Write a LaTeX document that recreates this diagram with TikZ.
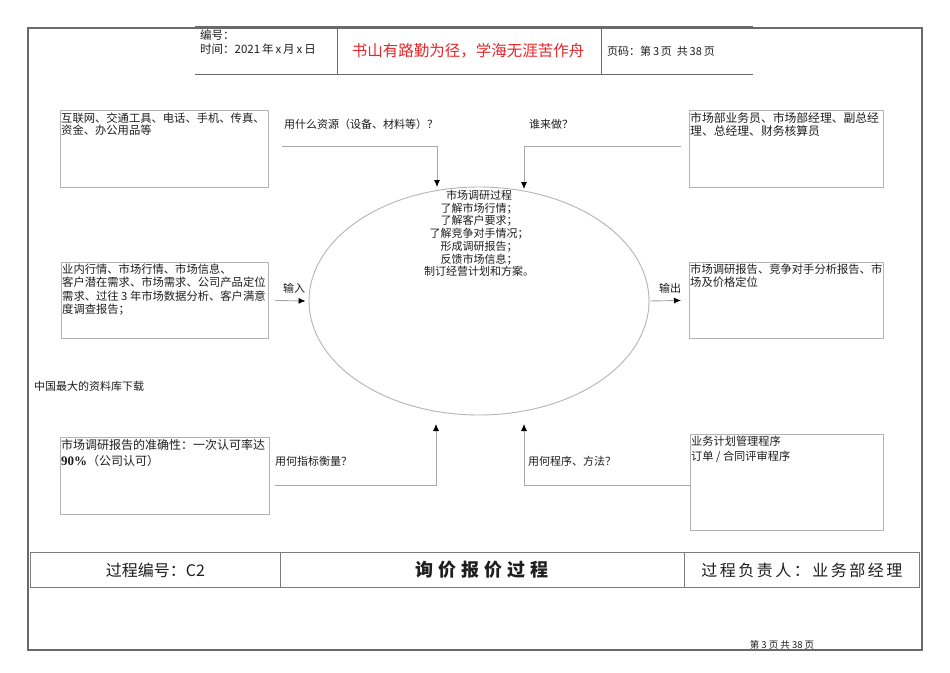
\documentclass[tikz,border=0pt]{standalone}
\usepackage{fontspec}
\setmainfont{Noto Sans CJK SC}
\newfontfamily\serifnum{Liberation Serif}
\usetikzlibrary{arrows.meta,shapes.geometric}
\definecolor{framegray}{HTML}{6A6A6A}
\definecolor{boxgray}{HTML}{B4B4B4}
\definecolor{linegray}{HTML}{A8A8A8}
\definecolor{tablegray}{HTML}{7C7C7C}
\definecolor{txt}{HTML}{1E1E1E}
\definecolor{redtxt}{HTML}{E8262B}
\tikzset{
  pbox/.style={draw=boxgray, line width=0.9pt, rectangle, anchor=north west, inner sep=0pt},
  boxtext/.style={anchor=north west, inner sep=0pt, align=left, text=txt, font=\fontsize{11.3}{13.5}\selectfont},
  lbl/.style={anchor=west, inner sep=0pt, text=txt, font=\fontsize{11}{13}\selectfont},
  conn/.style={draw=linegray, line width=0.9pt, -{Latex[length=7pt,width=6pt,color=black]}},
  tcell/.style={draw=tablegray, line width=0.9pt, rectangle, anchor=north west, inner sep=0pt, minimum height=35pt, text=txt},
  hdrline/.style={draw=framegray, line width=0.8pt},
}
\begin{document}
\begin{tikzpicture}[x=1pt,y=-1pt]
\useasboundingbox (0,0) rectangle (950,672);
\fill[white] (0,0) rectangle (950,672);

% outer frame
\draw[draw=framegray, line width=2pt] (28,28) rectangle (922,650);

% header
\draw[hdrline, line width=1.8pt] (195,27) -- (753,27);
\draw[hdrline] (195,74) -- (753,74);
\draw[hdrline] (337,27) -- (337,74);
\draw[hdrline] (601,27) -- (601,74);
\node[anchor=west, inner sep=0pt, text=txt, font=\fontsize{11.5}{13}\selectfont] (hno) at (200,35) {编号：};
\node[anchor=west, inner sep=0pt, text=txt, font=\fontsize{11.5}{13}\selectfont] (htime) at (200,49) {时间：2021\,年\,x\,月\,x\,日};
\node[inner sep=0pt, text=redtxt, font=\fontsize{15.5}{18}\selectfont] (motto) at (468,51) {书山有路勤为径，学海无涯苦作舟};
\node[anchor=west, inner sep=0pt, text=txt, font=\fontsize{11}{13}\selectfont] (hpage) at (607,51) {页码：第\,3\,页\ \ 共\,38\,页};

% boxes
\node[pbox, minimum width=208pt, minimum height=77pt] (tl) at (60,110) {};
\node[boxtext, font=\fontsize{11.3}{12.5}\selectfont] (tlt) at (61,112.5) {互联网、交通工具、电话、手机、传真、\\资金、办公用品等};

\node[pbox, minimum width=194pt, minimum height=77pt] (tr) at (689,110) {};
\node[boxtext, font=\fontsize{11.8}{13}\selectfont] (trt) at (690,112.5) {市场部业务员、市场部经理、副总经\\理、总经理、财务核算员};

\node[pbox, minimum width=207pt, minimum height=76pt] (lm) at (61,262) {};
\node[boxtext] (lmt) at (62,263.5) {业内行情、市场行情、市场信息、\\客户潜在需求、市场需求、公司产品定位\\需求、过往 3 年市场数据分析、客户满意\\度调查报告；};

\node[pbox, minimum width=194pt, minimum height=76pt] (rm) at (689,262) {};
\node[boxtext, font=\fontsize{11.3}{13.5}\selectfont] (rmt) at (690,263.5) {市场调研报告、竞争对手分析报告、市\\场及价格定位};

\node[pbox, minimum width=209pt, minimum height=77pt] (bl) at (60,437) {};
\node[boxtext, font=\fontsize{12}{16}\selectfont] (blt) at (61,439) {市场调研报告的准确性：一次认可率达\\{\serifnum\bfseries\fontsize{13}{16}\selectfont 90\%}（公司认可）};

\node[pbox, minimum width=193pt, minimum height=96pt] (br) at (690,434) {};
\node[boxtext, font=\fontsize{11.2}{14.5}\selectfont] (brt) at (691,436) {业务计划管理程序\\订单 / 合同评审程序};

% ellipse
\node[draw=boxgray, line width=0.9pt, ellipse, minimum width=340pt, minimum height=228pt, inner sep=0pt] (ell) at (479,301) {};
\node[anchor=north, inner sep=0pt, align=center, text=txt, font=\fontsize{11}{12.7}\selectfont] (elt) at (479,190) {市场调研过程\\了解市场行情；\\了解客户要求；\\了解竞争对手情况；\\形成调研报告；\\反馈市场信息；\\制订经营计划和方案。};

% labels
\node[lbl] (l1) at (284,124) {用什么资源（设备、材料等）？};
\node[lbl] (l2) at (529,124) {谁来做？};
\node[lbl] (l3) at (283,288) {输入};
\node[lbl] (l4) at (659,288) {输出};
\node[lbl] (l5) at (275,461) {用何指标衡量？};
\node[lbl] (l6) at (528,461) {用何程序、方法？};
\node[lbl] (l7) at (34,386) {中国最大的资料库下载};

% connectors
\coordinate (c1s) at (282,146);
\coordinate (c1e) at (437,187);
\draw[conn] (c1s) -| (c1e);
\coordinate (c2s) at (681,146);
\coordinate (c2e) at (524,189);
\draw[conn] (c2s) -| (c2e);
\draw[conn] ([xshift=6pt]lm.east) -- ([xshift=-3pt]ell.west);
\draw[conn] (ell.east) -- ([xshift=-8pt]rm.west);
\coordinate (c3s) at (275,485);
\coordinate (c3e) at (436,424);
\draw[conn] (c3s) -| (c3e);
\coordinate (c4e) at (524,424);
\draw[conn] (br.west |- c3s) -| (c4e);

% bottom table
\node[tcell, minimum width=250pt, font=\fontsize{16}{18}\selectfont] (t1) at (30,552) {过程编号：C2};
\node[tcell, minimum width=404pt, font=\fontsize{18}{20}\bfseries] (t2) at (280,552) {询\kern5pt 价\kern5pt 报\kern5pt 价\kern5pt 过\kern5pt 程};
\node[tcell, minimum width=235pt, font=\fontsize{16}{18}\selectfont] (t3) at (684,552) {过\kern2.5pt 程\kern2.5pt 负\kern2.5pt 责\kern2.5pt 人\kern2.5pt ：\kern2.5pt 业\kern2.5pt 务\kern2.5pt 部\kern2.5pt 经\kern2.5pt 理};

% footer
\node[inner sep=0pt, text=txt, font=\fontsize{9.5}{11}\selectfont] (foot) at (782,645) {第\ 3\ 页\ 共\ 38\ 页};
\end{tikzpicture}
\end{document}
